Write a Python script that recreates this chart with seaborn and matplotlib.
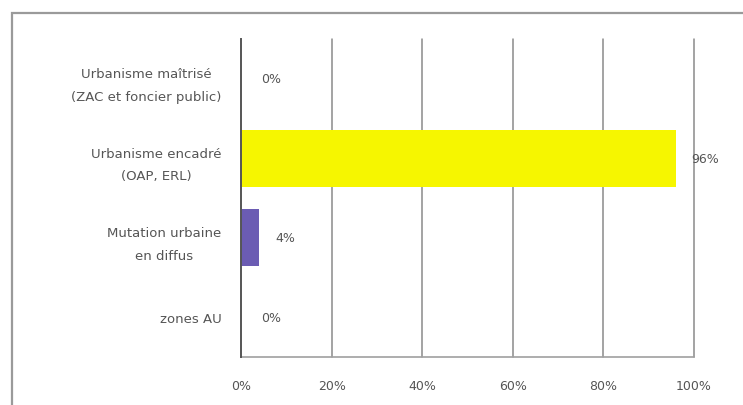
import matplotlib
matplotlib.use('Agg')
import matplotlib.pyplot as plt
import seaborn as sns
import pandas as pd
from matplotlib.patches import Rectangle
from matplotlib.ticker import FuncFormatter

# données
categories = ['Urbanisme maîtrisé\n(ZAC et foncier public)',
              'Urbanisme encadré\n(OAP, ERL)',
              'Mutation urbaine\nen diffus',
              'zones AU']
values = [0.0, 0.96, 0.04, 0.0]
bar_colors = ['#f6f600', '#f6f600', '#6b5cb3', '#6b5cb3']
x_ticks = [0, 0.2, 0.4, 0.6, 0.8, 1.0]

df = pd.DataFrame({'categorie': categories, 'part': values})

sns.set_style('white')
plt.rcParams['font.family'] = ['DejaVu Sans']

fig = plt.figure(figsize=(7.43, 4.06), dpi=100)
ax = fig.add_axes([241 / 743, 1 - 358 / 406, (694 - 241) / 743, (358 - 40) / 406])

sns.barplot(data=df, x='part', y='categorie', hue='categorie',
            palette=dict(zip(categories, bar_colors)), orient='h',
            width=0.72, saturation=1, linewidth=0, legend=False, ax=ax, zorder=2)

ax.set_xlim(0, 1.0)
ax.set_ylim(3.5, -0.5)
ax.set_xticks(x_ticks)
ax.xaxis.set_major_formatter(FuncFormatter(lambda v, p: f'{v * 100:.0f}%'))
for x in x_ticks[1:]:
    ax.axvline(x, color='#8a8a8a', lw=1.1, zorder=1, clip_on=False)

ax.set_xlabel('')
ax.set_ylabel('')
ax.tick_params(axis='x', length=0, pad=16, labelsize=9, labelcolor='#555555')
ax.tick_params(axis='y', length=0, pad=14, labelsize=9.5, labelcolor='#555555')
for lab in ax.get_yticklabels():
    lab.set_multialignment('center')
    lab.set_linespacing(1.95)

for s in ['top', 'right']:
    ax.spines[s].set_visible(False)
ax.spines['left'].set_color('#555555')
ax.spines['left'].set_linewidth(1.4)
ax.spines['left'].set_zorder(4)
ax.spines['bottom'].set_color('#a0a0a0')
ax.spines['bottom'].set_linewidth(1.2)

# étiquettes de valeur
for i, v in enumerate(values):
    off = 0.045 if v == 0 else 0.035
    ax.text(v + off, i, f'{v * 100:.0f}%', va='center', ha='left',
            fontsize=9, color='#555555', clip_on=False)

# cadre extérieur
fig.patches.append(Rectangle((12 / 743, -0.2), 1.0, 1.2 - 14 / 406,
                             transform=fig.transFigure, fill=False,
                             edgecolor='#9a9a9a', lw=1.6))

fig.savefig('out.png', dpi=100)
